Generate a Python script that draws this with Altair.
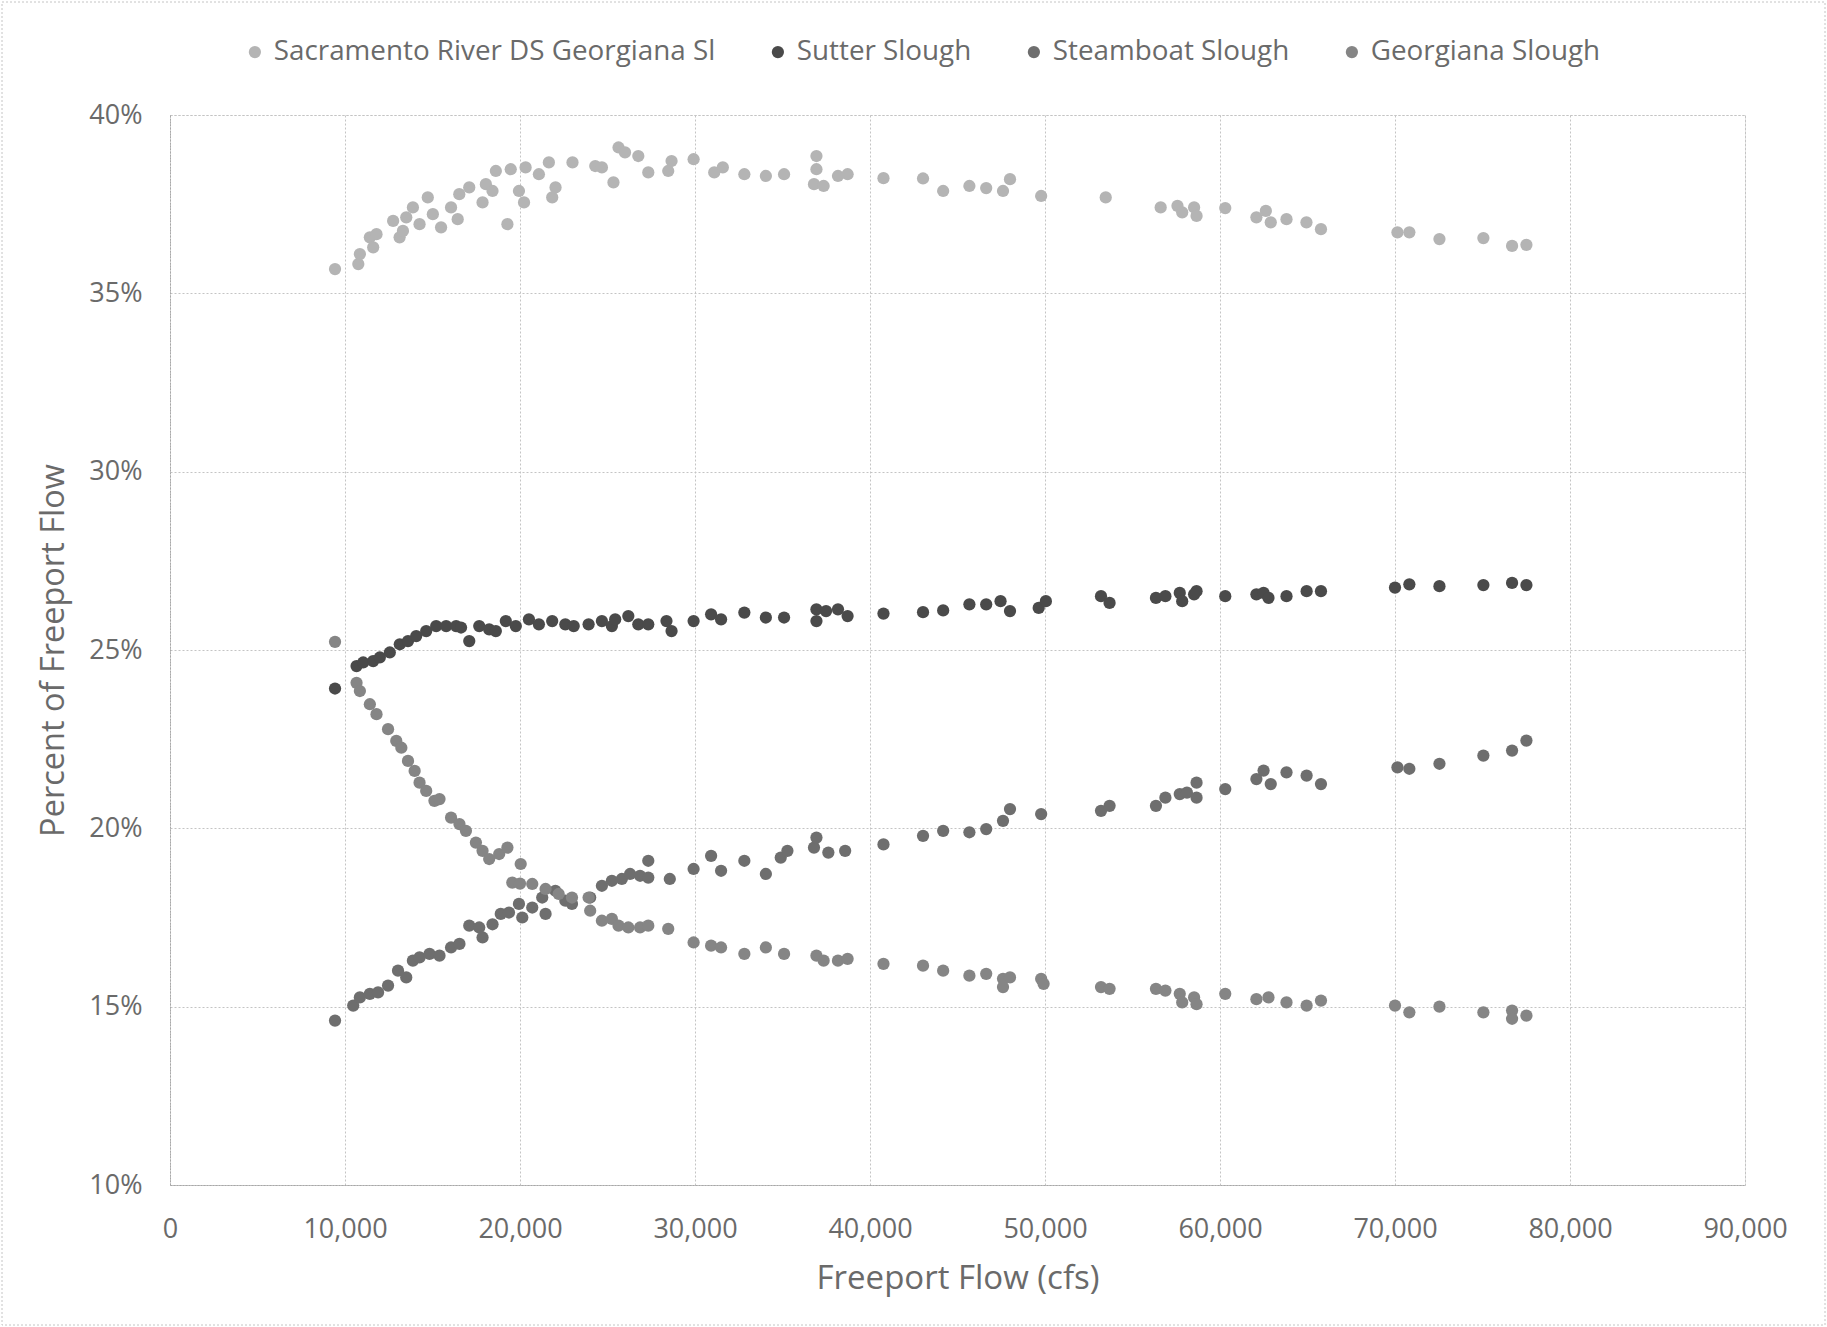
import altair as alt
import pandas as pd

# Share of Freeport flow carried by each channel, against Freeport flow (cfs)
SERIES = [
    "Sacramento River DS Georgiana Sl",
    "Sutter Slough",
    "Steamboat Slough",
    "Georgiana Slough",
]
COLORS = ["#b4b4b4", "#4a4a4a", "#6e6e6e", "#858585"]

sac_flow = [9430, 10760, 10850, 11420, 11610, 11800, 12750, 13120, 13310, 13500,
            13880, 14260, 14730, 15020, 15490, 16060, 16440, 16530, 17100, 17860,
            18050, 18430, 18620, 19280, 19470, 19940, 20230, 20320, 21080, 21650,
            21840, 22030, 23000, 24300, 24680, 25340, 25630, 26000, 26760, 27330,
            28470, 28660, 29920, 31100, 31590, 32820, 34050, 35090, 36800, 36940,
            36940, 37350, 38170, 38720, 40770, 43030, 44180, 45680, 46640, 47600,
            48000, 49780, 53470, 56610, 57570, 57840, 58520, 58660, 60300, 62080,
            62620, 62900, 63800, 64940, 65770, 70140, 70820, 72540, 75050, 76690,
            77510]
sac_pct = [35.68, 35.82, 36.1, 36.57, 36.29, 36.66, 37.03, 36.57, 36.75, 37.13,
           37.41, 36.94, 37.69, 37.22, 36.85, 37.41, 37.08, 37.78, 37.97, 37.55,
           38.06, 37.87, 38.43, 36.94, 38.48, 37.87, 37.55, 38.53, 38.34, 38.67,
           37.69, 37.97, 38.67, 38.57, 38.53, 38.11, 39.09, 38.95, 38.85, 38.39,
           38.43, 38.71, 38.76, 38.39, 38.53, 38.34, 38.29, 38.34, 38.06, 38.85,
           38.48, 38.01, 38.29, 38.34, 38.23, 38.22, 37.87, 38.01, 37.95, 37.87,
           38.2, 37.73, 37.69, 37.41, 37.45, 37.27, 37.41, 37.17, 37.39, 37.13,
           37.31, 36.99, 37.08, 36.99, 36.8, 36.71, 36.71, 36.52, 36.55, 36.33,
           36.36]

sut_flow = [9430, 10660, 11040, 11610, 11990, 12560, 13130, 13600, 14070, 14640,
            15210, 15780, 16350, 16630, 17100, 17670, 18240, 18620, 19190, 19760,
            20510, 21080, 21840, 22590, 23070, 23920, 24680, 25250, 25440, 26190,
            26760, 27330, 28370, 28660, 29920, 30920, 31490, 32820, 34050, 35090,
            36940, 36940, 37490, 38170, 38720, 40770, 43030, 44180, 45680, 46640,
            47460, 48000, 49640, 50050, 53200, 53690, 56340, 56880, 57700, 57840,
            58520, 58660, 60300, 62080, 62490, 62770, 63800, 64950, 65770, 70000,
            70820, 72540, 75050, 76690, 77510]
sut_pct = [23.92, 24.55, 24.65, 24.69, 24.79, 24.93, 25.16, 25.25, 25.39, 25.53,
           25.67, 25.67, 25.67, 25.63, 25.25, 25.67, 25.58, 25.53, 25.81, 25.67,
           25.86, 25.72, 25.81, 25.72, 25.67, 25.72, 25.81, 25.67, 25.86, 25.95,
           25.72, 25.72, 25.81, 25.53, 25.81, 26.0, 25.86, 26.05, 25.91, 25.91,
           26.14, 25.81, 26.09, 26.14, 25.95, 26.02, 26.06, 26.11, 26.28, 26.28,
           26.37, 26.09, 26.18, 26.37, 26.51, 26.32, 26.46, 26.51, 26.6, 26.37,
           26.56, 26.65, 26.51, 26.56, 26.6, 26.46, 26.51, 26.65, 26.65, 26.75,
           26.84, 26.79, 26.82, 26.88, 26.82]

stm_flow = [9430, 10470, 10850, 11420, 11890, 12460, 13030, 13500, 13880, 14260,
            14830, 15400, 16060, 16540, 17100, 17670, 17860, 18430, 18900, 19370,
            19940, 20130, 20700, 21270, 21460, 22020, 22590, 22970, 24010, 24680,
            25250, 25820, 26290, 26860, 27330, 27330, 28560, 29920, 30920, 31490,
            32820, 34050, 34900, 35280, 36800, 36940, 37620, 38580, 40770, 43030,
            44180, 45680, 46640, 47600, 48000, 49780, 53200, 53690, 56340, 56880,
            57700, 58110, 58660, 58660, 60300, 62080, 62490, 62900, 63800, 64950,
            65770, 70140, 70820, 72540, 75050, 76690, 77510]
stm_pct = [14.61, 15.03, 15.26, 15.36, 15.4, 15.59, 16.01, 15.82, 16.29, 16.38,
           16.48, 16.43, 16.66, 16.76, 17.27, 17.22, 16.94, 17.31, 17.6, 17.64,
           17.88, 17.5, 17.78, 18.06, 17.6, 18.25, 17.97, 17.88, 18.06, 18.39,
           18.53, 18.58, 18.72, 18.67, 19.09, 18.62, 18.58, 18.86, 19.23, 18.81,
           19.09, 18.72, 19.18, 19.37, 19.46, 19.74, 19.32, 19.37, 19.55, 19.79,
           19.93, 19.89, 19.98, 20.21, 20.54, 20.4, 20.49, 20.63, 20.63, 20.86,
           20.96, 21.0, 21.28, 20.86, 21.1, 21.38, 21.62, 21.24, 21.57, 21.48,
           21.24, 21.71, 21.67, 21.81, 22.04, 22.18, 22.46]

geo_flow = [9430, 10660, 10850, 11420, 11800, 12460, 12930, 13220, 13600, 13980,
            14260, 14640, 15110, 15400, 16060, 16540, 16910, 17480, 17860, 18240,
            18810, 19280, 19560, 20000, 20040, 20700, 21460, 22210, 22970, 23920,
            24010, 24680, 25250, 25630, 26190, 26860, 27330, 28470, 29920, 30920,
            31490, 32820, 34050, 35090, 36940, 37350, 38170, 38720, 40770, 43030,
            44180, 45680, 46640, 47600, 47600, 48000, 49780, 49920, 53200, 53690,
            56340, 56880, 57700, 57840, 58520, 58660, 60300, 62080, 62770, 63800,
            64950, 65770, 70000, 70820, 72540, 75050, 76690, 76690, 77510]
geo_pct = [25.23, 24.08, 23.85, 23.48, 23.2, 22.78, 22.45, 22.26, 21.89, 21.61,
           21.28, 21.05, 20.77, 20.82, 20.3, 20.12, 19.93, 19.6, 19.37, 19.14,
           19.28, 19.46, 18.48, 18.45, 19.0, 18.44, 18.3, 18.16, 18.06, 18.06,
           17.69, 17.41, 17.46, 17.27, 17.22, 17.22, 17.27, 17.18, 16.8, 16.71,
           16.66, 16.48, 16.66, 16.48, 16.43, 16.29, 16.29, 16.34, 16.2, 16.15,
           16.01, 15.87, 15.92, 15.78, 15.55, 15.82, 15.78, 15.64, 15.55, 15.5,
           15.5, 15.45, 15.36, 15.12, 15.26, 15.07, 15.36, 15.21, 15.26, 15.12,
           15.03, 15.17, 15.03, 14.84, 15.0, 14.84, 14.89, 14.66, 14.75]

x_ticks = [0, 10000, 20000, 30000, 40000, 50000, 60000, 70000, 80000, 90000]
y_ticks = [10, 15, 20, 25, 30, 35, 40]

rows = []
for name, flows, pcts in zip(SERIES, [sac_flow, sut_flow, stm_flow, geo_flow],
                             [sac_pct, sut_pct, stm_pct, geo_pct]):
    assert len(flows) == len(pcts), name
    for f, p in zip(flows, pcts):
        rows.append({"series": name, "flow": f, "pct": p})
df = pd.DataFrame(rows)

FONT = "Open Sans"
TEXT = "#6a6a6a"
W, H = 1575, 1070
PAD = {"left": 170, "top": 115, "right": 82, "bottom": 142}

points = alt.Chart(df).mark_circle(size=150, opacity=1).encode(
    x=alt.X(
        "flow:Q",
        scale=alt.Scale(domain=[0, 90000], nice=False),
        axis=alt.Axis(
            values=x_ticks, format=",.0f", title="Freeport Flow (cfs)",
            labelPadding=31, titlePadding=20, titleFontSize=33,
            labelFlush=False,
        ),
    ),
    y=alt.Y(
        "pct:Q",
        scale=alt.Scale(domain=[10, 40], nice=False, zero=False),
        axis=alt.Axis(
            values=y_ticks, labelExpr="datum.value + '%'",
            title="Percent of Freeport Flow", titleFontSize=32.5,
            labelPadding=28, titlePadding=18, labelFlush=False,
        ),
    ),
    color=alt.Color(
        "series:N",
        scale=alt.Scale(domain=SERIES, range=COLORS),
        legend=alt.Legend(
            title=None, orient="none", direction="horizontal", columns=4,
            legendX=71, legendY=-77, padding=0, columnPadding=48,
            labelOffset=5, symbolSize=150, symbolType="circle",
            symbolStrokeWidth=0, labelFontSize=27.8, labelFont=FONT,
            labelColor=TEXT, labelLimit=0,
        ),
    ),
)

# dotted outline around the whole chart area
frame = alt.Chart(pd.DataFrame({"k": [0]})).mark_rect(
    filled=False, stroke="#c4c4c4", strokeDash=[2, 2], strokeWidth=1
).encode(
    x=alt.value(-PAD["left"] + 2),
    x2=alt.value(W + PAD["right"] - 2),
    y=alt.value(-PAD["top"] + 2),
    y2=alt.value(H + PAD["bottom"] - 2),
)

chart = alt.layer(points, frame).properties(
    width=W, height=H,
    autosize=alt.AutoSizeParams(type="none"),
    padding=PAD,
    background="white",
).configure_view(
    stroke="#c4c4c4", strokeDash=[2, 2], strokeWidth=1,
).configure_axis(
    labelFont=FONT, labelFontSize=27, labelColor=TEXT,
    titleFont=FONT, titleFontSize=31, titleFontWeight="normal", titleColor=TEXT,
    ticks=False, tickSize=0,
    grid=True, gridColor="#c4c4c4", gridDash=[2, 2], gridWidth=1,
    domainColor="#a8a8a8", domainDash=[2, 1], domainWidth=1,
)

chart.save("out.html", embed_options={"renderer": "svg", "actions": False})
